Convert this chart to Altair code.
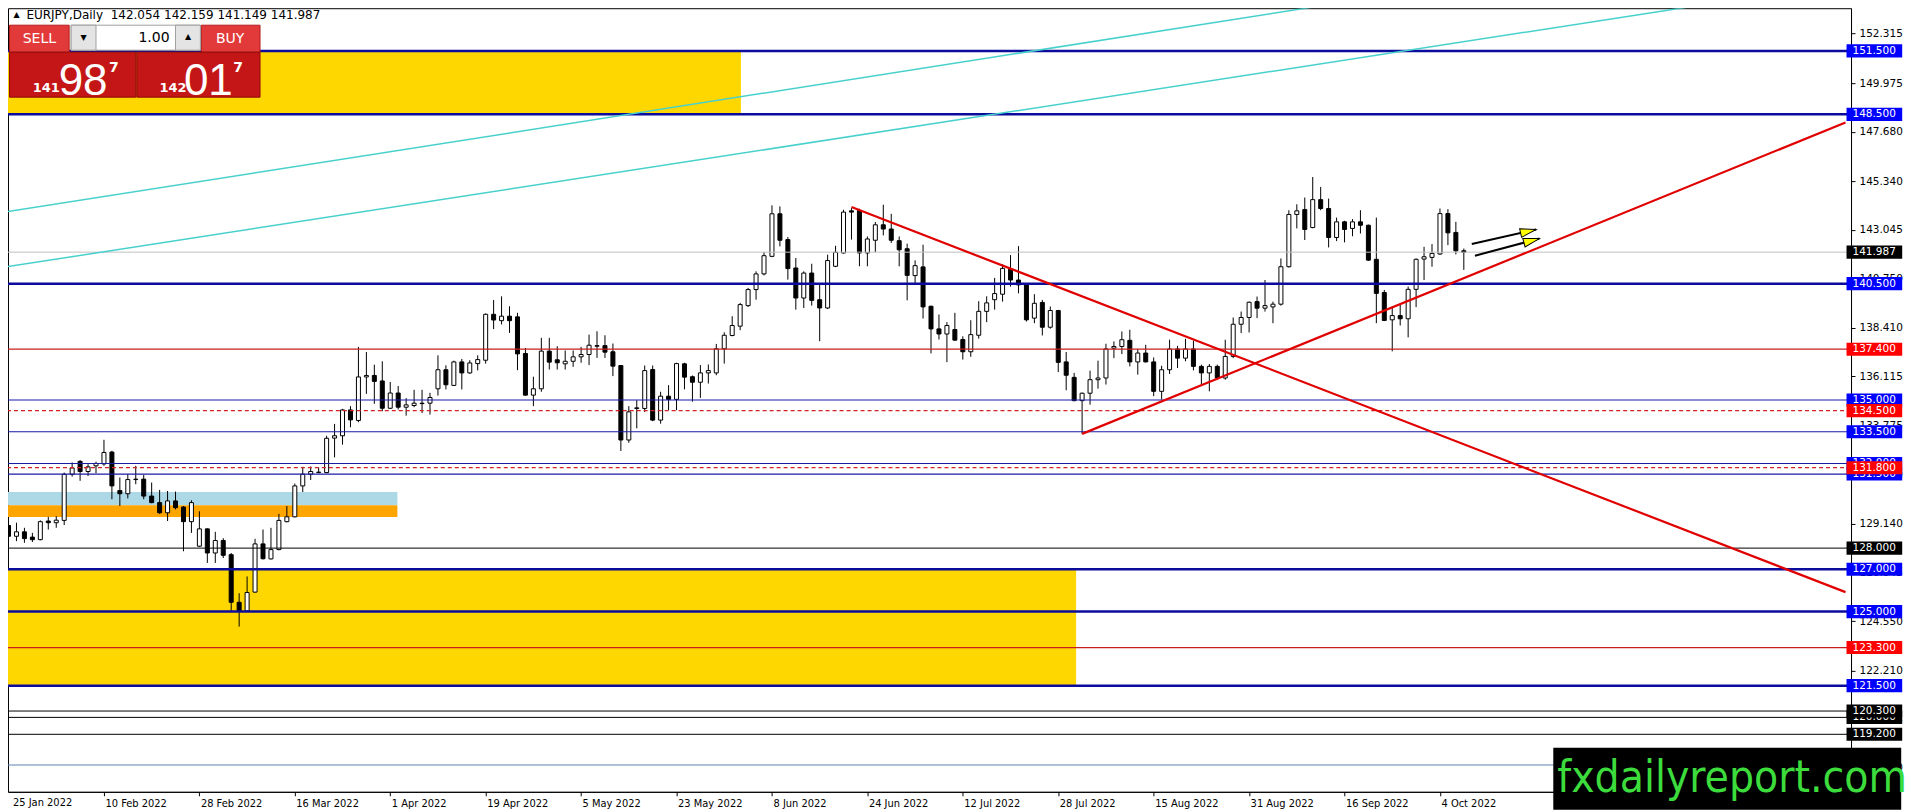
import altair as alt
import pandas as pd

# ---------------- data ----------------
DATE_LABELS = ["25 Jan 2022", "10 Feb 2022", "28 Feb 2022", "16 Mar 2022", "1 Apr 2022",
               "19 Apr 2022", "5 May 2022", "23 May 2022", "8 Jun 2022", "24 Jun 2022",
               "12 Jul 2022", "28 Jul 2022", "15 Aug 2022", "31 Aug 2022", "16 Sep 2022",
               "4 Oct 2022"]
DATE_INDEX = [0, 12, 24, 36, 48, 60, 72, 84, 96, 108, 120, 132, 144, 156, 168, 180]

OPEN = [129.07, 128.56, 128.77, 128.52, 128.40, 129.28, 129.20, 129.31, 131.49, 132.10,
        131.62, 131.89, 131.98, 132.54, 130.72, 130.57, 131.24, 131.26, 130.46, 130.15,
        129.67, 130.23, 129.94, 129.25, 128.09, 128.91, 127.77, 128.36, 127.69, 125.44,
        125.03, 125.92, 128.20, 127.49, 127.93, 129.25, 129.48, 130.94, 131.49, 131.57,
        131.57, 133.20, 133.31, 134.53, 134.03, 136.09, 136.16, 135.90, 134.61, 135.33,
        134.66, 134.74, 134.85, 134.85, 135.53, 136.43, 135.69, 136.80, 136.28, 136.72,
        136.88, 139.05, 138.75, 138.96, 138.93, 137.20, 135.23, 135.53, 137.31, 136.90,
        136.71, 136.83, 137.04, 137.15, 137.54, 137.57, 137.28, 136.63, 133.11, 134.60,
        134.60, 136.44, 134.05, 135.18, 135.03, 136.71, 136.10, 135.84, 136.28, 136.28,
        137.42, 138.05, 138.49, 139.46, 140.22, 140.96, 141.79, 143.80, 142.58, 141.24,
        139.82, 141.00, 139.74, 139.35, 141.32, 141.95, 143.94, 143.96, 141.95, 142.55,
        143.28, 143.08, 142.53, 142.15, 140.88, 141.29, 139.43, 138.36, 138.12, 138.33,
        137.86, 137.28, 138.06, 139.19, 139.74, 140.00, 141.19, 140.67, 140.48, 138.87,
        139.61, 138.44, 139.23, 136.80, 136.07, 134.97, 135.32, 135.96, 136.04, 137.45,
        137.53, 137.82, 136.80, 137.22, 136.80, 135.41, 136.43, 137.41, 136.98, 137.41,
        136.59, 136.28, 136.59, 136.04, 137.06, 138.58, 138.90, 139.65, 139.34, 139.40,
        139.53, 141.30, 143.77, 144.00, 143.15, 144.47, 144.05, 142.68, 143.42, 143.11,
        143.42, 143.26, 141.65, 140.08, 138.79, 138.99, 138.84, 140.23, 141.66, 141.74,
        141.90, 143.81, 142.92, 142.054]

HIGH = [129.20, 129.20, 128.96, 128.72, 129.31, 129.48, 129.51, 131.57, 132.05, 132.16,
        131.97, 132.08, 133.12, 132.60, 131.34, 131.49, 131.89, 131.46, 131.10, 130.75,
        130.70, 130.67, 129.99, 130.26, 129.74, 128.93, 128.77, 128.47, 127.77, 125.87,
        126.66, 128.44, 128.88, 128.96, 129.62, 129.99, 131.05, 131.84, 131.86, 131.81,
        133.31, 133.87, 134.58, 134.71, 137.51, 137.27, 136.67, 136.83, 135.85, 135.66,
        135.09, 135.48, 135.48, 135.34, 137.11, 136.64, 136.86, 136.94, 136.88, 137.11,
        139.09, 139.73, 139.90, 139.43, 139.12, 137.46, 136.10, 137.94, 137.94, 137.54,
        137.34, 137.34, 137.51, 138.09, 138.25, 138.06, 137.67, 136.65, 134.71, 134.99,
        136.63, 136.63, 135.39, 135.70, 136.76, 136.76, 136.16, 136.65, 136.68, 137.65,
        138.20, 138.96, 139.59, 140.30, 141.08, 141.99, 144.20, 144.15, 142.70, 141.71,
        141.08, 141.44, 140.45, 141.87, 142.29, 143.99, 144.07, 144.04, 142.73, 143.41,
        144.23, 143.80, 142.73, 142.39, 141.60, 142.34, 139.46, 139.04, 138.68, 139.12,
        138.01, 138.77, 139.67, 139.90, 140.77, 141.41, 141.85, 142.27, 140.52, 140.00,
        139.73, 139.42, 139.26, 137.27, 136.28, 135.35, 136.39, 136.86, 137.66, 137.77,
        138.24, 138.32, 137.41, 137.61, 137.01, 136.62, 137.85, 137.56, 137.89, 137.80,
        136.67, 136.70, 136.67, 137.85, 138.90, 139.18, 139.65, 139.89, 140.67, 139.65,
        141.69, 143.97, 144.25, 144.57, 145.54, 145.07, 144.52, 143.62, 143.47, 143.55,
        143.97, 143.29, 143.62, 140.20, 139.42, 139.50, 140.36, 141.69, 142.24, 142.37,
        144.05, 144.02, 143.42, 142.159]

LOW = [128.09, 128.33, 128.25, 128.29, 128.37, 128.88, 128.96, 129.09, 131.38, 131.18,
       131.41, 131.54, 131.89, 130.31, 129.99, 130.35, 131.02, 130.31, 130.12, 129.62,
       129.28, 129.83, 127.85, 128.72, 128.05, 127.30, 127.30, 127.53, 125.00, 124.29,
       125.00, 125.90, 127.46, 127.46, 127.90, 129.22, 129.45, 130.65, 131.22, 131.54,
       131.54, 132.29, 132.89, 133.71, 133.95, 135.29, 134.82, 134.47, 134.58, 134.55,
       134.26, 134.66, 134.38, 134.31, 135.21, 135.50, 135.66, 135.50, 136.24, 136.40,
       136.72, 138.35, 138.57, 138.17, 136.41, 135.20, 134.71, 135.39, 136.44, 136.44,
       136.44, 136.57, 136.76, 136.65, 136.99, 136.99, 136.13, 132.59, 132.98, 133.66,
       134.43, 134.00, 133.88, 134.52, 134.52, 135.50, 134.92, 135.10, 135.78, 136.17,
       136.72, 138.01, 138.30, 139.40, 139.74, 140.89, 141.75, 142.26, 140.69, 139.27,
       139.35, 139.46, 137.78, 139.30, 141.28, 141.92, 142.58, 141.32, 141.32, 141.99,
       142.78, 142.42, 141.32, 139.71, 140.53, 138.85, 137.20, 137.86, 136.79, 137.80,
       136.91, 137.04, 137.90, 138.68, 139.27, 139.65, 140.36, 140.04, 138.71, 138.63,
       138.05, 138.37, 136.32, 135.46, 134.94, 133.40, 134.78, 135.54, 135.73, 136.98,
       137.17, 136.59, 136.20, 136.78, 135.18, 135.02, 136.23, 136.51, 136.83, 136.40,
       135.73, 135.41, 135.96, 135.96, 136.98, 138.16, 138.19, 138.87, 139.18, 138.63,
       139.46, 141.26, 143.11, 142.56, 143.12, 143.97, 142.21, 142.51, 142.45, 142.74,
       142.87, 141.57, 138.63, 138.73, 137.30, 138.52, 137.96, 139.39, 140.67, 141.30,
       141.86, 142.32, 141.88, 141.149]

CLOSE = [128.56, 128.77, 128.45, 128.40, 129.25, 129.20, 129.32, 131.49, 131.79, 131.62,
         131.84, 132.00, 132.52, 130.94, 130.57, 131.24, 131.26, 130.46, 130.15, 129.67,
         130.23, 129.91, 129.25, 130.15, 128.91, 127.77, 128.36, 127.66, 125.44, 125.03,
         125.90, 128.20, 127.50, 127.93, 129.31, 129.48, 130.94, 131.49, 131.62, 131.59,
         133.19, 133.31, 134.53, 134.06, 136.09, 136.16, 135.88, 134.61, 135.33, 134.66,
         134.77, 134.85, 134.83, 135.12, 136.43, 135.72, 136.80, 136.28, 136.75, 136.91,
         139.05, 138.78, 138.96, 138.75, 137.18, 135.23, 135.53, 137.31, 136.79, 136.76,
         136.83, 137.04, 137.15, 137.59, 137.57, 137.26, 136.60, 133.11, 134.44, 134.63,
         136.39, 134.05, 135.18, 135.03, 136.72, 136.08, 135.84, 136.28, 136.39, 137.42,
         138.06, 138.52, 139.51, 140.22, 140.96, 141.82, 143.80, 142.55, 141.21, 139.82,
         141.00, 139.71, 139.35, 141.59, 141.98, 143.88, 143.88, 141.95, 142.61, 143.28,
         143.08, 142.55, 142.10, 140.89, 141.35, 139.40, 138.36, 138.12, 138.52, 137.83,
         137.28, 138.09, 139.19, 139.59, 140.03, 141.22, 140.67, 140.44, 138.79, 139.57,
         138.44, 139.23, 136.78, 136.17, 134.97, 135.32, 135.96, 136.04, 137.41, 137.53,
         137.85, 136.80, 137.22, 136.80, 135.41, 136.43, 137.41, 136.98, 137.41, 136.59,
         136.28, 136.59, 136.04, 137.06, 138.58, 138.90, 139.62, 139.34, 139.46, 139.53,
         141.30, 143.77, 143.94, 143.06, 144.47, 144.05, 142.68, 143.42, 143.06, 143.42,
         143.26, 141.61, 140.04, 138.76, 138.99, 138.84, 140.23, 141.65, 141.77, 141.93,
         143.81, 142.90, 142.05, 141.987]

# horizontal price levels (drawn in this order; later ones sit on top)
LEVEL_PRICE = [117.75, 151.5, 148.5, 141.987, 140.5, 137.4, 135.0, 134.5, 133.5, 132.0,
               131.5, 131.8, 128.0, 127.0, 125.0, 123.3, 121.5, 120.0, 120.3, 119.2]
LEVEL_KIND = ["steel", "blue_thick", "blue_thick", "price", "blue_thick", "red", "blue",
              "red_dash", "blue", "blue", "blue", "red_dash", "black", "blue_thick",
              "blue_thick", "red", "blue_thick", "black", "black", "black"]

TICK_VALUES = [152.315, 149.975, 147.680, 145.340, 143.045, 140.750, 138.410, 136.115,
               133.775, 131.480, 129.140, 126.845, 124.550, 122.210, 119.915, 117.620]

# zones: bar index from/to, price from/to
ZONE_X0 = [-2.0, -2.0, -2.0, -2.0]
ZONE_X1 = [92.1, 48.9, 48.9, 134.25]
ZONE_P0 = [148.5, 130.02, 129.47, 121.5]
ZONE_P1 = [151.5, 130.65, 130.02, 127.0]
ZONE_COLOR = ["#FFD700", "#ADD8E6", "#FFA500", "#FFD700"]

# drawn lines: bar index / price of both ends
TREND_X0 = [-0.5, -0.5, 106.0, 135.0]
TREND_P0 = [143.88, 141.28, 144.12, 133.40]
TREND_X1 = [166.4, 213.6, 231.0, 231.0]
TREND_P1 = [153.71, 153.71, 125.92, 148.12]
TREND_COLOR = ["#48D1CC", "#48D1CC", "#E00000", "#E00000"]
TREND_WIDTH = [1.5, 1.5, 2.2, 2.2]

ARROW_X0 = [184.0, 184.4]
ARROW_P0 = [142.37, 141.82]
ARROW_X1 = [192.1, 192.5]
ARROW_P1 = [143.06, 142.63]
ARROW_ANGLE = [347, 345]

STYLE = {  # line colour, line width, dashed, label box colour
    "blue_thick": ("#0B0B9C", 2.5, False, "#0000FF"),
    "blue": ("#1A1AA8", 1.2, False, "#0000FF"),
    "red": ("#C81E1E", 1.2, False, "#FF0000"),
    "red_dash": ("#D42020", 1.2, True, "#FF0000"),
    "black": ("#000000", 1.0, False, "#000000"),
    "price": ("#C0C0C0", 1.0, False, "#000000"),
    "steel": ("#5F86AF", 1.0, False, None),
}


# reference-screen position helpers for the terminal decorations
def xi(px):
    return (px - 4.0) / 8.0


def yp(py):
    return 151.5 - (py - 50.7) / 21.17


# ---------------- scales & axes ----------------
xs = alt.Scale(domain=[0.5625, 231.0625], nice=False, zero=False)
ys = alt.Scale(domain=[116.483, 153.517], nice=False, zero=False)

label_expr = "[" + ",".join("'%s'" % s for s in DATE_LABELS) + "][round(datum.value / 12)]"

xaxis = alt.Axis(values=DATE_INDEX[1:], labelExpr=label_expr, title=None, grid=False,
                 labelFont="DejaVu Sans Condensed", labelFontSize=11, labelColor="black",
                 labelAlign="left", labelBaseline="top", labelPadding=2, labelOffset=1,
                 labelFlush=False, labelOverlap=False, tickSize=4, tickColor="black",
                 domainColor="black", domainWidth=1, zindex=0)
yaxis = alt.Axis(orient="right", values=TICK_VALUES, format=".3f", title=None, grid=False,
                 labelFont="DejaVu Sans", labelFontSize=10.5, labelColor="black",
                 labelPadding=4, tickSize=4, tickColor="black", domainColor="black",
                 labelOverlap=False, labelFlush=False, zindex=0)


def X(f):
    return alt.X(f, type="quantitative", scale=xs, axis=xaxis)


def Y(f):
    return alt.Y(f, type="quantitative", scale=ys, axis=yaxis)


layers = []

# zones
zdf = pd.DataFrame({"x0": ZONE_X0, "x1": ZONE_X1, "p0": ZONE_P0, "p1": ZONE_P1, "fill": ZONE_COLOR})
layers.append(alt.Chart(zdf).mark_rect(clip=True).encode(
    x=X("x0"), x2="x1", y=Y("p0"), y2="p1", fill=alt.Fill("fill:N", scale=None)))

# candles
cdf = pd.DataFrame({"i": list(range(len(OPEN))), "o": OPEN, "h": HIGH, "l": LOW, "c": CLOSE})
layers.append(alt.Chart(cdf).mark_rule(color="black", strokeWidth=1, clip=True).encode(
    x=X("i"), y=Y("l"), y2="h"))
layers.append(alt.Chart(cdf).mark_bar(size=4, stroke="black", strokeWidth=1, clip=True).encode(
    x=X("i"), y=Y("o"), y2="c",
    fill=alt.condition("datum.c >= datum.o", alt.value("white"), alt.value("black"))))

# horizontal levels
lrows = []
for p, k in zip(LEVEL_PRICE, LEVEL_KIND):
    col, w, dash, box = STYLE[k]
    lrows.append({"price": p, "lc": col, "lw": w, "dash": dash, "box": box,
                  "label": "%.3f" % p})
ldf = pd.DataFrame(lrows)
layers.append(alt.Chart(ldf[~ldf["dash"]]).mark_rule(clip=True).encode(
    y=Y("price"), color=alt.Color("lc:N", scale=None),
    strokeWidth=alt.StrokeWidth("lw:Q", scale=None)))
layers.append(alt.Chart(ldf[ldf["dash"]]).mark_rule(clip=True, strokeDash=[4, 3]).encode(
    y=Y("price"), color=alt.Color("lc:N", scale=None),
    strokeWidth=alt.StrokeWidth("lw:Q", scale=None)))

# trend / channel lines
tdf = pd.DataFrame({"x0": TREND_X0, "p0": TREND_P0, "x1": TREND_X1, "p1": TREND_P1,
                    "col": TREND_COLOR, "w": TREND_WIDTH})
layers.append(alt.Chart(tdf).mark_rule(clip=True).encode(
    x=X("x0"), y=Y("p0"), x2="x1", y2="p1", color=alt.Color("col:N", scale=None),
    strokeWidth=alt.StrokeWidth("w:Q", scale=None)))

# arrows
adf = pd.DataFrame({"x0": ARROW_X0, "p0": ARROW_P0, "x1": ARROW_X1, "p1": ARROW_P1,
                    "ang": ARROW_ANGLE})
layers.append(alt.Chart(adf).mark_rule(color="black", strokeWidth=2, clip=True).encode(
    x=X("x0"), y=Y("p0"), x2="x1", y2="p1"))
layers.append(alt.Chart(adf).mark_point(shape="M 0 0 L -2 -0.55 L -2 0.55 Z", filled=True,
                                        size=256, fill="#FFFF00", stroke="black",
                                        strokeWidth=1, opacity=1, clip=True).encode(
    x=X("x1"), y=Y("p1"), angle=alt.Angle("ang:Q", scale=None)))

# price label boxes on the right scale
bdf = ldf[ldf["box"].notna()].copy()
bdf["bx0"] = xi(1853)
bdf["bx1"] = xi(1909)
bdf["tx"] = xi(1859)
bdf["b0"] = bdf["price"] - 0.31
bdf["b1"] = bdf["price"] + 0.31
for _, r in bdf.iterrows():
    one = pd.DataFrame([r])
    layers.append(alt.Chart(one).mark_rect(clip=False).encode(
        x=X("bx0"), x2="bx1", y=Y("b0"), y2="b1", fill=alt.Fill("box:N", scale=None)))
    layers.append(alt.Chart(one).mark_text(clip=False, align="left", baseline="middle",
                                           color="white", font="DejaVu Sans", fontSize=10.5).encode(
        x=X("tx"), y=Y("price"), text="label:N"))

# first date label (sits at the very left edge)
fdf = pd.DataFrame({"x": [0.5625], "p": [yp(797)], "t": [DATE_LABELS[0]]})
layers.append(alt.Chart(fdf).mark_text(clip=False, align="left", baseline="top",
                                       font="DejaVu Sans Condensed", fontSize=11,
                                       color="black").encode(x=X("x"), y=Y("p"), text="t:N"))

# ---------------- terminal decorations ----------------
UI_RECT_X0 = [5, 198, 67, 67, 172, 5, 133]
UI_RECT_X1 = [65, 257, 197, 92, 197, 132, 257]
UI_RECT_Y0 = [25, 25, 25, 25, 25, 52, 52]
UI_RECT_Y1 = [52, 52, 50, 50, 50, 97, 97]
UI_RECT_FILL = ["#E23A3A", "#E23A3A", "#FFFFFF", "#E4E4E4", "#E4E4E4", "#C41616", "#C41616"]
UI_RECT_STROKE = ["#B51C1C", "#B51C1C", "#A0A0A0", "#A0A0A0", "#A0A0A0", "#8E0A0A", "#8E0A0A"]
udf = pd.DataFrame({"x0": [xi(v) for v in UI_RECT_X0], "x1": [xi(v) for v in UI_RECT_X1],
                    "p0": [yp(v) for v in UI_RECT_Y0], "p1": [yp(v) for v in UI_RECT_Y1],
                    "fill": UI_RECT_FILL, "stroke": UI_RECT_STROKE})
layers.append(alt.Chart(udf).mark_rect(clip=True, strokeWidth=1).encode(
    x=X("x0"), x2="x1", y=Y("p0"), y2="p1", fill=alt.Fill("fill:N", scale=None),
    stroke=alt.Stroke("stroke:N", scale=None)))


def ui_text(items, **mk):
    df = pd.DataFrame({"x": [xi(a) for a, b, t in items], "p": [yp(b) for a, b, t in items],
                       "t": [t for a, b, t in items]})
    return alt.Chart(df).mark_text(clip=True, **mk).encode(x=X("x"), y=Y("p"), text="t:N")


layers.append(ui_text([(12, 15, "\u25b2")], font="DejaVu Sans", fontSize=8, color="black",
                      align="center", baseline="middle"))
layers.append(ui_text([(22, 15, "EURJPY,Daily\u00a0\u00a0142.054 142.159 141.149 141.987")],
                      font="DejaVu Sans", fontSize=12, color="black", align="left",
                      baseline="middle"))
layers.append(ui_text([(35, 39, "SELL"), (227, 39, "BUY")], font="DejaVu Sans", fontSize=14,
                      color="white", align="center", baseline="middle"))
layers.append(ui_text([(166, 38, "1.00")], font="DejaVu Sans", fontSize=14, color="black",
                      align="right", baseline="middle"))
layers.append(ui_text([(79.5, 38, "\u25bc"), (184.5, 37, "\u25b2")], font="DejaVu Sans",
                      fontSize=8, color="black", align="center", baseline="middle"))
layers.append(ui_text([(42, 92, "141"), (169.5, 92, "142")], font="DejaVu Sans", fontSize=13,
                      fontWeight="bold", color="white", align="center", baseline="alphabetic"))
layers.append(ui_text([(79, 95, "98"), (205, 95, "01")], font="Liberation Sans", fontSize=44,
                      color="white", align="center", baseline="alphabetic"))
layers.append(ui_text([(110, 72, "7"), (235, 72, "7")], font="DejaVu Sans", fontSize=14,
                      fontWeight="bold", color="white", align="center", baseline="alphabetic"))

# watermark
wdf = pd.DataFrame({"x0": [xi(1558)], "x1": [xi(1908)], "p0": [yp(748)], "p1": [yp(810)],
                    "tx": [xi(1562)], "tp": [yp(792)], "t": ["fxdailyreport.com"]})
layers.append(alt.Chart(wdf).mark_rect(clip=False, color="black").encode(
    x=X("x0"), x2="x1", y=Y("p0"), y2="p1"))
layers.append(alt.Chart(wdf).mark_text(clip=False, align="left", baseline="alphabetic",
                                       font="DejaVu Sans Condensed", fontSize=44,
                                       color="#3CDC3C").encode(x=X("tx"), y=Y("tp"), text="t:N"))

chart = alt.layer(*layers).properties(width=1844, height=784, padding=0, background="white") \
    .configure_view(stroke="black", strokeWidth=1)

chart.save("out.html", embed_options={"renderer": "svg", "actions": False})
